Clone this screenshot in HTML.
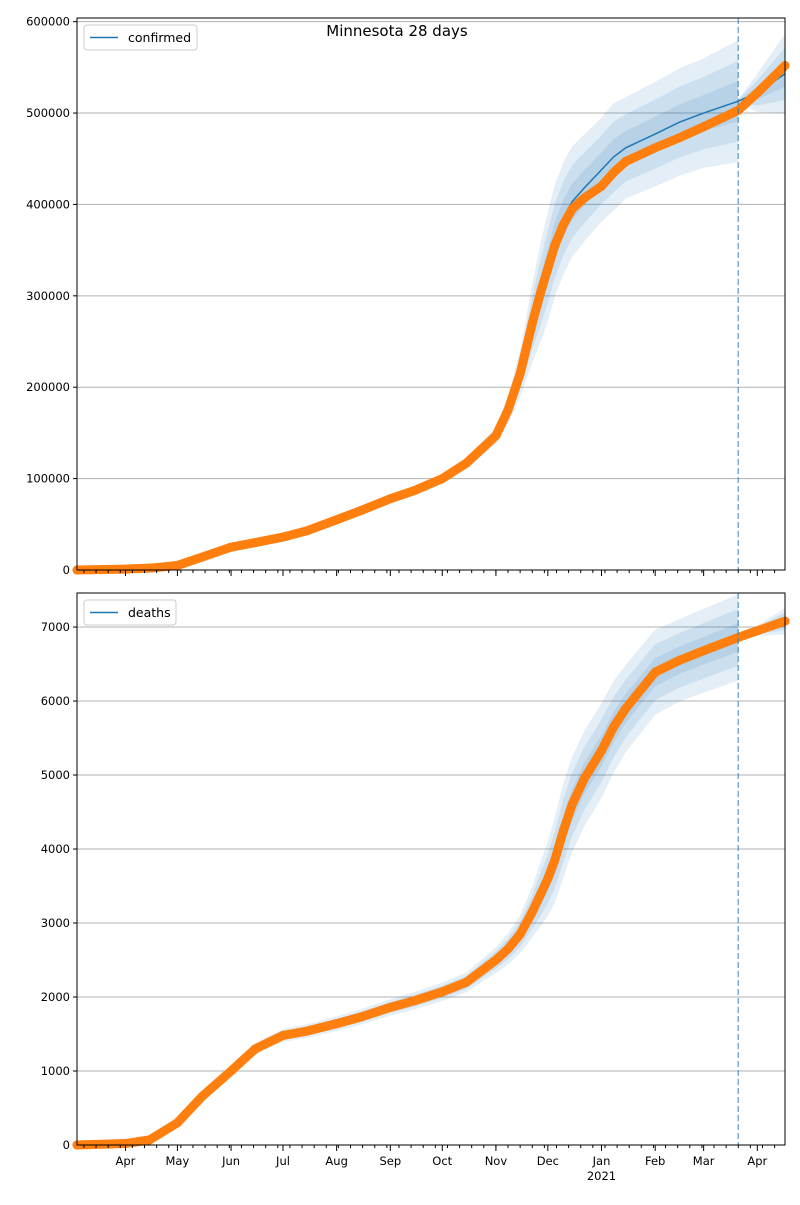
<!DOCTYPE html>
<html><head><meta charset="utf-8"><style>
body{margin:0;background:#fff;font-family:"Liberation Sans","DejaVu Sans",sans-serif}
svg text{font-family:"DejaVu Sans","Liberation Sans",sans-serif}
</style></head><body>
<svg id="chart" width="800" height="1200" xmlns="http://www.w3.org/2000/svg">
<text x="397" y="36" font-size="15" text-anchor="middle">Minnesota 28 days</text>
</svg>
<script>
const dates = ["2020-03-04","2020-04-01","2020-04-15","2020-05-01","2020-05-15","2020-06-01","2020-06-15","2020-07-01","2020-07-15","2020-08-01","2020-08-15","2020-09-01","2020-09-15","2020-10-01","2020-10-15","2020-11-01","2020-11-08","2020-11-15","2020-11-22","2020-11-27","2020-12-01","2020-12-05","2020-12-10","2020-12-15","2020-12-22","2021-01-01","2021-01-08","2021-01-15","2021-02-01","2021-02-15","2021-03-01","2021-03-21","2021-04-01","2021-04-17"];
const confirmed = [0,1000,2000,5000,14000,25000,30000,36000,43000,55000,65000,78000,87000,100000,117000,147000,175000,215000,270000,305000,330000,355000,378000,395000,407000,420000,435000,447000,462000,473000,485000,503000,522000,552000];
const confModel = [0,1000,2000,5000,14000,25000,30000,36000,43000,55000,65000,78000,87000,100000,117000,147000,175000,215000,270000,305000,332000,360000,385000,403000,418000,438000,452000,462000,477000,490000,500000,513000,522000,543000];
const confSpread = [0,0,0,0,0,0,0.02,0.04,0.05,0.05,0.05,0.05,0.05,0.05,0.05,0.06,0.08,0.12,0.16,0.18,0.18,0.17,0.16,0.15,0.14,0.13,0.13,0.12,0.12,0.12,0.12,0.13,0.04,0.08];
const deaths = [0,20,70,300,650,1000,1300,1480,1540,1640,1730,1860,1950,2070,2200,2500,2650,2850,3150,3400,3600,3850,4250,4600,4950,5330,5650,5900,6390,6550,6680,6860,6950,7080];
const deathSpread = [0,0,0,0,0.03,0.05,0.06,0.06,0.06,0.06,0.06,0.06,0.06,0.06,0.06,0.07,0.08,0.09,0.11,0.13,0.14,0.15,0.15,0.14,0.13,0.12,0.11,0.1,0.09,0.085,0.085,0.085,0.01,0.025];
const confTicks = [0,100000,200000,300000,400000,500000,600000];
const deathTicks = [0,1000,2000,3000,4000,5000,6000,7000];
const monthLabels = ["Apr","May","Jun","Jul","Aug","Sep","Oct","Nov","Dec","Jan","Feb","Mar","Apr"];
const monthDates = ["2020-04-01","2020-05-01","2020-06-01","2020-07-01","2020-08-01","2020-09-01","2020-10-01","2020-11-01","2020-12-01","2021-01-01","2021-02-01","2021-03-01","2021-04-01"];
const forecastStart = "2021-03-21";

const NS="http://www.w3.org/2000/svg", svg=document.getElementById('chart');
const t0=Date.parse("2020-03-04"), tEnd=Date.parse("2021-04-17");
const X0=77,X1=785;
const day=s=>(Date.parse(s)-t0)/864e5;
const xs=s=>X0+(Date.parse(s)-t0)/(tEnd-t0)*(X1-X0);
function mk(tag,attrs,parent){const e=document.createElementNS(NS,tag);for(const k in attrs)e.setAttribute(k,attrs[k]);(parent||svg).appendChild(e);return e;}
const fcIdx=dates.indexOf(forecastStart);

function panel(name,top,bottom,ymax,ticks,obs,model,spread,label,showX){
  const ys=v=>bottom-v/ymax*(bottom-top);
  const g=mk('g',{});
  
  
  ticks.forEach(t=>{
    const y=ys(t);
    if(t>0&&y>top){const l=mk('line',{x1:X0,x2:X1,y1:y,y2:y,stroke:'#b0b0b0','stroke-width':1},g);
    }
    mk('line',{x1:X0-4,x2:X0,y1:y,y2:y,stroke:'#000'},g);
    const tx=mk('text',{x:X0-7,y:y+4,'font-size':11.5,'text-anchor':'end'},g);tx.textContent=t;
    
  });
  const segs=[[0,fcIdx],[fcIdx,dates.length-1]];
  [1,0.66,0.33].forEach(k=>{
    segs.forEach(([a,b],si)=>{
      let up=[],dn=[];
      for(let i=a;i<=b;i++){
        let m=model[i];
        let s=spread[i]; if(si==1&&i==a) s=0.005;
        up.push(xs(dates[i])+','+ys(m*(1+s*k)));
        dn.unshift(xs(dates[i])+','+ys(m*(1-s*k)));
      }
      const p=mk('polygon',{points:up.concat(dn).join(' '),fill:'#1f77b4','fill-opacity':0.12},g);
      
    });
  });
  const ml=mk('polyline',{points:dates.map((d,i)=>xs(d)+','+ys(model[i])).join(' '),fill:'none',stroke:'#1f77b4','stroke-width':1.5},g);
  
  const ol=mk('polyline',{points:dates.map((d,i)=>xs(d)+','+ys(obs[i])).join(' '),fill:'none',stroke:'#ff7f0e','stroke-width':9,'stroke-linejoin':'round','stroke-linecap':'round'},g);
  
  dates.forEach((d,i)=>{const c=mk('circle',{cx:xs(d),cy:ys(obs[i]),r:4.5,fill:'#ff7f0e'},g);
    });
  const fx=xs(forecastStart);
  const fl=mk('line',{x1:fx,x2:fx,y1:top,y2:bottom,stroke:'#1f77b4','stroke-opacity':0.6,'stroke-width':1.5,'stroke-dasharray':'6,3'},g);
  
  const fr=mk('rect',{x:X0,y:top,width:X1-X0,height:bottom-top,fill:'none',stroke:'#000','stroke-width':1},g);
  
  for(let d=4;d<=day("2021-04-17");d+=7){const x=X0+d/day("2021-04-17")*(X1-X0);mk('line',{x1:x,x2:x,y1:bottom,y2:bottom+3,stroke:'#000'},g);}
  monthDates.forEach((md,i)=>{const x=xs(md);mk('line',{x1:x,x2:x,y1:bottom,y2:bottom+6,stroke:'#000'},g);
    if(showX){const tx=mk('text',{x:x,y:bottom+20,'font-size':11.5,'text-anchor':'middle'},g);tx.textContent=monthLabels[i];
      
      if(md==="2021-01-01"){const y2=mk('text',{x:x,y:bottom+35,'font-size':11.5,'text-anchor':'middle'},g);y2.textContent='2021';
        }}
  });
  const lg=mk('g',{},g);
  const w=label.length*7+50;
  mk('rect',{x:X0+7,y:top+7,width:w,height:25,rx:3,fill:'#fff','fill-opacity':0.85,stroke:'#ccc'},lg);
  mk('line',{x1:X0+13,x2:X0+41,y1:top+19.5,y2:top+19.5,stroke:'#1f77b4','stroke-width':1.5},lg);
  const lt=mk('text',{x:X0+51,y:top+24,'font-size':12.5},lg);lt.textContent=label;
}
panel('confirmed',18,570,604000,confTicks,confirmed,confModel,confSpread,'confirmed',false);
panel('deaths',593,1145,7460,deathTicks,deaths,deaths.map(v=>v),deathSpread,'deaths',true);
</script>
</body></html>
